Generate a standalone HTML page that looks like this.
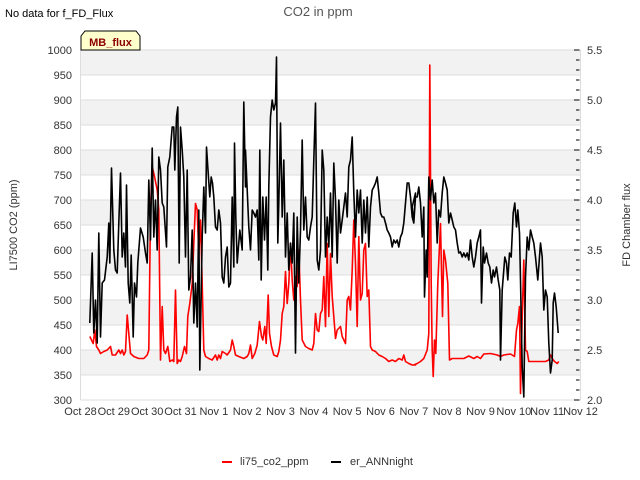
<!DOCTYPE html>
<html><head><meta charset="utf-8"><style>
body{margin:0;background:#fff;}
svg{display:block;font-family:"Liberation Sans","DejaVu Sans",sans-serif;}
</style></head><body>
<svg id="chart" width="640" height="480" viewBox="0 0 640 480">
<text x="5" y="17" font-size="11" fill="#000">No data for f_FD_Flux</text>
<text x="318" y="16" font-size="13" fill="#555" text-anchor="middle">CO2 in ppm</text>
<g id="bands"></g>
<g id="grid"></g>
<g id="xaxis"></g>
<g id="yleft"></g>
<g id="yright"></g>
<g id="series"></g>
<g>
<path d="M81,50 L81,36 L85,31 L136,31 L140,36 L140,50 Z" fill="#ffffcc" stroke="#000" stroke-width="1"/>
<text x="110.5" y="46" font-size="11" font-weight="bold" fill="#8b0000" text-anchor="middle">MB_flux</text>
</g>
<text transform="translate(17,225) rotate(-90)" font-size="11" fill="#333" text-anchor="middle">LI7500 CO2 (ppm)</text>
<text transform="translate(630,225) rotate(-90)" font-size="11" fill="#333" text-anchor="middle">FD Chamber flux</text>
<g>
<g>
<line x1="222" y1="462" x2="232" y2="462" stroke="#f00" stroke-width="2"/>
<text x="240" y="465" font-size="11" fill="#333">li75_co2_ppm</text></g>
<g>
<line x1="331" y1="462" x2="341" y2="462" stroke="#000" stroke-width="2"/>
<text x="350" y="465" font-size="11" fill="#333">er_ANNnight</text></g>
</g>
</svg>
<script>
const xTickLabels=["Oct 28","Oct 29","Oct 30","Oct 31","Nov 1","Nov 2","Nov 3","Nov 4","Nov 5","Nov 6","Nov 7","Nov 8","Nov 9","Nov 10","Nov 11","Nov 12"];
const leftTicks=[300,350,400,450,500,550,600,650,700,750,800,850,900,950,1000];
const rightTicks=[2.0,2.5,3.0,3.5,4.0,4.5,5.0,5.5];
const segStarts=[0,4.95,9.9];
const blackDaysA=[0.28,0.35,0.40,0.45,0.50,0.55,0.60,0.65,0.72,0.80,0.85,0.88,0.93,1.00,1.05,1.10,1.15,1.20,1.25,1.30,1.35,1.38,1.43,1.48,1.52,1.58,1.62,1.68,1.72,1.80,1.88,1.95,2.00,2.05,2.10,2.15,2.20,2.25,2.30,2.35,2.40,2.45,2.50,2.58,2.62,2.68,2.75,2.80,2.83,2.88,2.92,2.96,3.00,3.05,3.10,3.15,3.20,3.25,3.30,3.35,3.40,3.45,3.50,3.55,3.58,3.65,3.70,3.75,3.78,3.82,3.88,3.92,3.96,4.00,4.05,4.10,4.15,4.20,4.25,4.30,4.35,4.40,4.45,4.50,4.55,4.60,4.62,4.66,4.70,4.78,4.85,4.90,4.95];
const blackFluxA=[2.77,3.47,2.67,3.0,2.57,3.67,2.63,3.17,3.2,3.43,3.77,3.37,4.32,3.5,3.3,3.27,3.77,4.27,3.43,3.67,3.33,4.15,3.17,2.97,3.45,2.63,3.17,3.03,3.37,3.72,3.63,3.47,3.37,4.2,3.6,4.52,3.63,4.0,3.5,4.43,4.3,3.97,3.93,3.53,4.33,4.43,4.73,4.73,4.3,4.83,4.93,3.37,4.73,4.5,4.23,3.43,4.3,3.1,3.23,3.7,2.77,3.17,2.73,3.9,2.3,3.63,4.13,3.67,4.53,4.33,4.03,4.23,4.17,4.03,3.73,3.7,3.9,3.77,3.23,3.17,3.43,3.53,3.13,3.17,4.03,3.33,4.57,3.83,3.37,3.7,3.5,4.98,4.13];
const blackDaysB=[0,0.05,0.10,0.15,0.20,0.25,0.30,0.35,0.40,0.43,0.47,0.52,0.57,0.62,0.67,0.70,0.75,0.80,0.85,0.90,0.93,0.97,1.00,1.05,1.10,1.15,1.20,1.25,1.30,1.35,1.40,1.45,1.50,1.55,1.60,1.65,1.70,1.75,1.80,1.85,1.90,1.95,2.00,2.05,2.10,2.15,2.20,2.25,2.30,2.35,2.40,2.45,2.50,2.55,2.60,2.65,2.70,2.75,2.80,2.85,2.90,2.95,3.00,3.05,3.10,3.15,3.20,3.25,3.30,3.35,3.40,3.45,3.50,3.55,3.60,3.65,3.70,3.75,3.80,3.85,3.90,3.95,4.00,4.05,4.10,4.15,4.20,4.25,4.30,4.35,4.40,4.45,4.50,4.55,4.60,4.65,4.70,4.75,4.80,4.85,4.90,4.95,5.00,5.05,5.10];
const blackFluxB=[4.5,4.1,3.73,3.5,3.9,3.87,3.83,3.9,3.4,4.5,3.2,4.03,3.6,4.03,3.3,4.13,4.83,5.0,4.9,4.97,5.43,3.57,3.97,4.77,3.83,4.4,3.43,3.87,3.3,3.57,3.37,3.87,2.47,3.83,3.17,3.7,4.6,3.7,4.03,3.63,3.6,3.73,3.83,4.4,4.97,3.4,3.3,3.5,4.5,4.3,3.43,3.83,3.53,4.07,3.43,4.37,4.0,3.37,4.0,3.67,3.8,3.93,4.07,3.83,4.33,4.4,4.63,4.07,3.63,4.1,3.87,4.1,3.57,4.0,3.67,4.03,3.53,3.93,4.1,4.13,4.17,4.23,4.07,3.87,3.83,3.83,3.77,3.7,3.67,3.63,3.53,3.6,3.57,3.6,3.53,3.63,3.67,3.77,3.97,4.17,4.17,4.03,3.83,3.77,4.07];
const blackDaysC=[0.05,0.10,0.15,0.20,0.25,0.30,0.35,0.40,0.42,0.47,0.50,0.55,0.60,0.65,0.70,0.75,0.80,0.85,0.90,0.95,1.00,1.05,1.10,1.15,1.20,1.25,1.30,1.35,1.40,1.45,1.50,1.55,1.60,1.65,1.70,1.75,1.80,1.85,1.90,1.95,2.00,2.05,2.10,2.13,2.18,2.22,2.28,2.33,2.38,2.43,2.48,2.52,2.58,2.63,2.68,2.70,2.75,2.80,2.83,2.88,2.92,2.97,3.02,3.08,3.13,3.18,3.22,3.27,3.30,3.35,3.40,3.45,3.50,3.55,3.60,3.65,3.70,3.75,3.82,3.90,3.95,4.00,4.05,4.10,4.15,4.20,4.25,4.28,4.32,4.37,4.43];
const blackFluxC=[3.93,3.77,4.03,4.03,4.13,3.97,3.63,3.93,3.03,3.5,3.23,4.23,4.0,4.2,3.97,4.07,3.57,3.9,3.83,4.07,4.23,4.17,4.1,3.77,3.87,3.8,3.73,3.7,3.57,3.47,3.48,3.43,3.47,3.43,3.47,3.4,3.6,3.43,3.33,3.43,3.57,3.63,3.7,2.97,3.53,3.37,3.47,3.37,3.33,3.17,3.3,3.23,3.33,3.2,3.1,2.4,3.1,3.3,3.43,3.37,3.2,3.47,3.43,3.87,3.97,3.73,3.9,3.67,3.2,2.33,2.03,3.23,3.63,3.5,3.7,3.63,3.57,3.43,3.2,3.57,3.43,2.9,3.1,3.03,2.57,2.27,2.4,2.97,3.07,2.93,2.67];
const redDaysA=[0.28,0.33,0.38,0.43,0.48,0.55,0.60,0.70,0.80,0.90,0.95,1.05,1.15,1.20,1.25,1.30,1.35,1.40,1.45,1.50,1.60,1.75,1.90,2.00,2.05,2.10,2.15,2.22,2.30,2.35,2.40,2.45,2.50,2.55,2.62,2.68,2.75,2.80,2.85,2.90,2.95,3.00,3.05,3.12,3.18,3.22,3.28,3.35,3.40,3.45,3.50,3.55,3.60,3.65,3.70,3.75,3.85,3.95,4.05,4.10,4.15,4.20,4.25,4.35,4.40,4.50,4.55,4.60,4.65,4.75,4.90,5.00];
const redCo2A=[427,420,413,440,407,400,393,397,400,407,390,390,400,393,400,390,397,470,433,393,387,383,383,390,400,680,767,747,720,680,380,487,400,393,407,377,380,377,520,373,380,377,387,407,393,467,493,533,613,693,680,593,660,533,400,387,383,380,390,380,390,383,397,393,390,400,420,407,390,387,383,387];
const redDaysB=[0.10,0.15,0.20,0.28,0.35,0.42,0.48,0.52,0.58,0.62,0.68,0.72,0.78,0.85,0.95,1.00,1.05,1.10,1.15,1.20,1.25,1.30,1.35,1.40,1.45,1.50,1.55,1.60,1.65,1.70,1.80,1.90,2.00,2.05,2.10,2.15,2.20,2.25,2.30,2.35,2.40,2.45,2.50,2.55,2.60,2.65,2.70,2.75,2.85,2.90,3.00,3.05,3.10,3.15,3.20,3.25,3.30,3.35,3.40,3.45,3.50,3.55,3.60,3.65,3.70,3.75,3.80,3.90,4.00,4.10,4.20,4.30,4.40,4.50,4.60,4.70,4.75,4.80,4.90,5.00,5.10];
const redCo2B=[393,410,383,393,410,457,427,420,447,413,510,433,407,390,387,397,420,473,487,557,493,533,613,540,500,547,527,600,500,420,407,403,400,413,473,440,437,473,480,547,447,613,467,593,507,467,423,440,447,427,413,500,507,480,560,660,573,447,627,500,513,600,613,507,520,407,400,397,390,387,383,377,380,377,383,380,390,377,373,370,370];
const redDaysC=[0.10,0.20,0.30,0.40,0.50,0.55,0.58,0.62,0.65,0.68,0.72,0.76,0.82,0.90,0.96,1.00,1.05,1.12,1.17,1.25,1.40,1.60,1.75,1.90,2.00,2.10,2.20,2.40,2.60,2.70,2.80,3.00,3.12,3.18,3.22,3.27,3.30,3.35,3.40,3.45,3.50,3.55,3.70,3.90,4.05,4.15,4.20,4.25,4.32,4.40,4.45];
const redCo2C=[370,373,377,383,400,433,970,533,400,347,420,393,533,653,467,600,580,533,380,383,383,383,388,383,387,383,392,393,390,387,390,392,387,440,453,487,313,467,580,400,397,377,377,377,377,380,390,383,377,373,377];

const L=80.5,R=580.5,T=50,B=400,DAYS=15;
const NS="http://www.w3.org/2000/svg";
const xs=d=>L+(R-L)*d/DAYS;
const yl=v=>B-(v-300)*(B-T)/700;
const yr=v=>B-(v-2)*(B-T)/3.5;
function mk(tag,attrs,parent){const e=document.createElementNS(NS,tag);for(const k in attrs)e.setAttribute(k,attrs[k]);parent.appendChild(e);return e;}
const bands=document.getElementById('bands'),grid=document.getElementById('grid');
mk('rect',{x:L,y:T,width:R-L,height:B-T,fill:'#fff'},bands);
for(let v=1000;v>300;v-=100){
 const r=mk('rect',{x:L,y:yl(v),width:R-L,height:yl(v-50)-yl(v),fill:'#f2f2f2'},bands);
 
 
}
const yL=document.getElementById('yleft');
leftTicks.forEach(v=>{
 const g=mk('line',{x1:L,x2:R,y1:yl(v),y2:yl(v),stroke:'#ddd','stroke-width':1},grid);
 
 
 const t=mk('text',{x:72,y:yl(v)+4,'font-size':11,fill:'#333','text-anchor':'end'},yL);
 t.textContent=v;
 
 
});
mk('line',{x1:L,x2:L,y1:T,y2:B,stroke:'#ddd'},yL);
mk('line',{x1:L,x2:R,y1:B,y2:B,stroke:'#ddd'},yL);
mk('line',{x1:R,x2:R,y1:T,y2:B,stroke:'#ddd'},yL);
const yR=document.getElementById('yright');
for(let i=0;i<=35;i++){
 const v=2+i*0.1,major=i%5===0;
 const tk=mk('line',{x1:major?574:576,x2:R-1,y1:yr(v),y2:yr(v),stroke:'#000','stroke-width':1},yR);
 
 
}
rightTicks.forEach(v=>{
 const t=mk('text',{x:587,y:yr(v)+4,'font-size':11,fill:'#333'},yR);
 t.textContent=v.toFixed(1);
 
 
});
const xA=document.getElementById('xaxis');
xTickLabels.forEach((s,i)=>{
 const t=mk('text',{x:xs(i),y:415,'font-size':11,fill:'#333','text-anchor':'middle'},xA);
 t.textContent=s;
 
 
});
function line(days,vals,start,yf,color,name){
 const pts=days.map((d,i)=>xs(start+d).toFixed(1)+','+yf(vals[i]).toFixed(1)).join(' ');
 const p=mk('polyline',{points:pts,fill:'none',stroke:color,'stroke-width':1.6,'stroke-linejoin':'round'},document.getElementById('series'));
 
 
}
const bd=[].concat(blackDaysA.map(d=>d+segStarts[0]),blackDaysB.map(d=>d+segStarts[1]),blackDaysC.map(d=>d+segStarts[2]));
const bv=[].concat(blackFluxA,blackFluxB,blackFluxC);
const rd=[].concat(redDaysA.map(d=>d+segStarts[0]),redDaysB.map(d=>d+segStarts[1]),redDaysC.map(d=>d+segStarts[2]));
const rv=[].concat(redCo2A,redCo2B,redCo2C);
line(rd,rv,0,yl,'#f00','li75-co2-line');
line(bd,bv,0,yr,'#000','er-annnight-line');
</script>
</body></html>
